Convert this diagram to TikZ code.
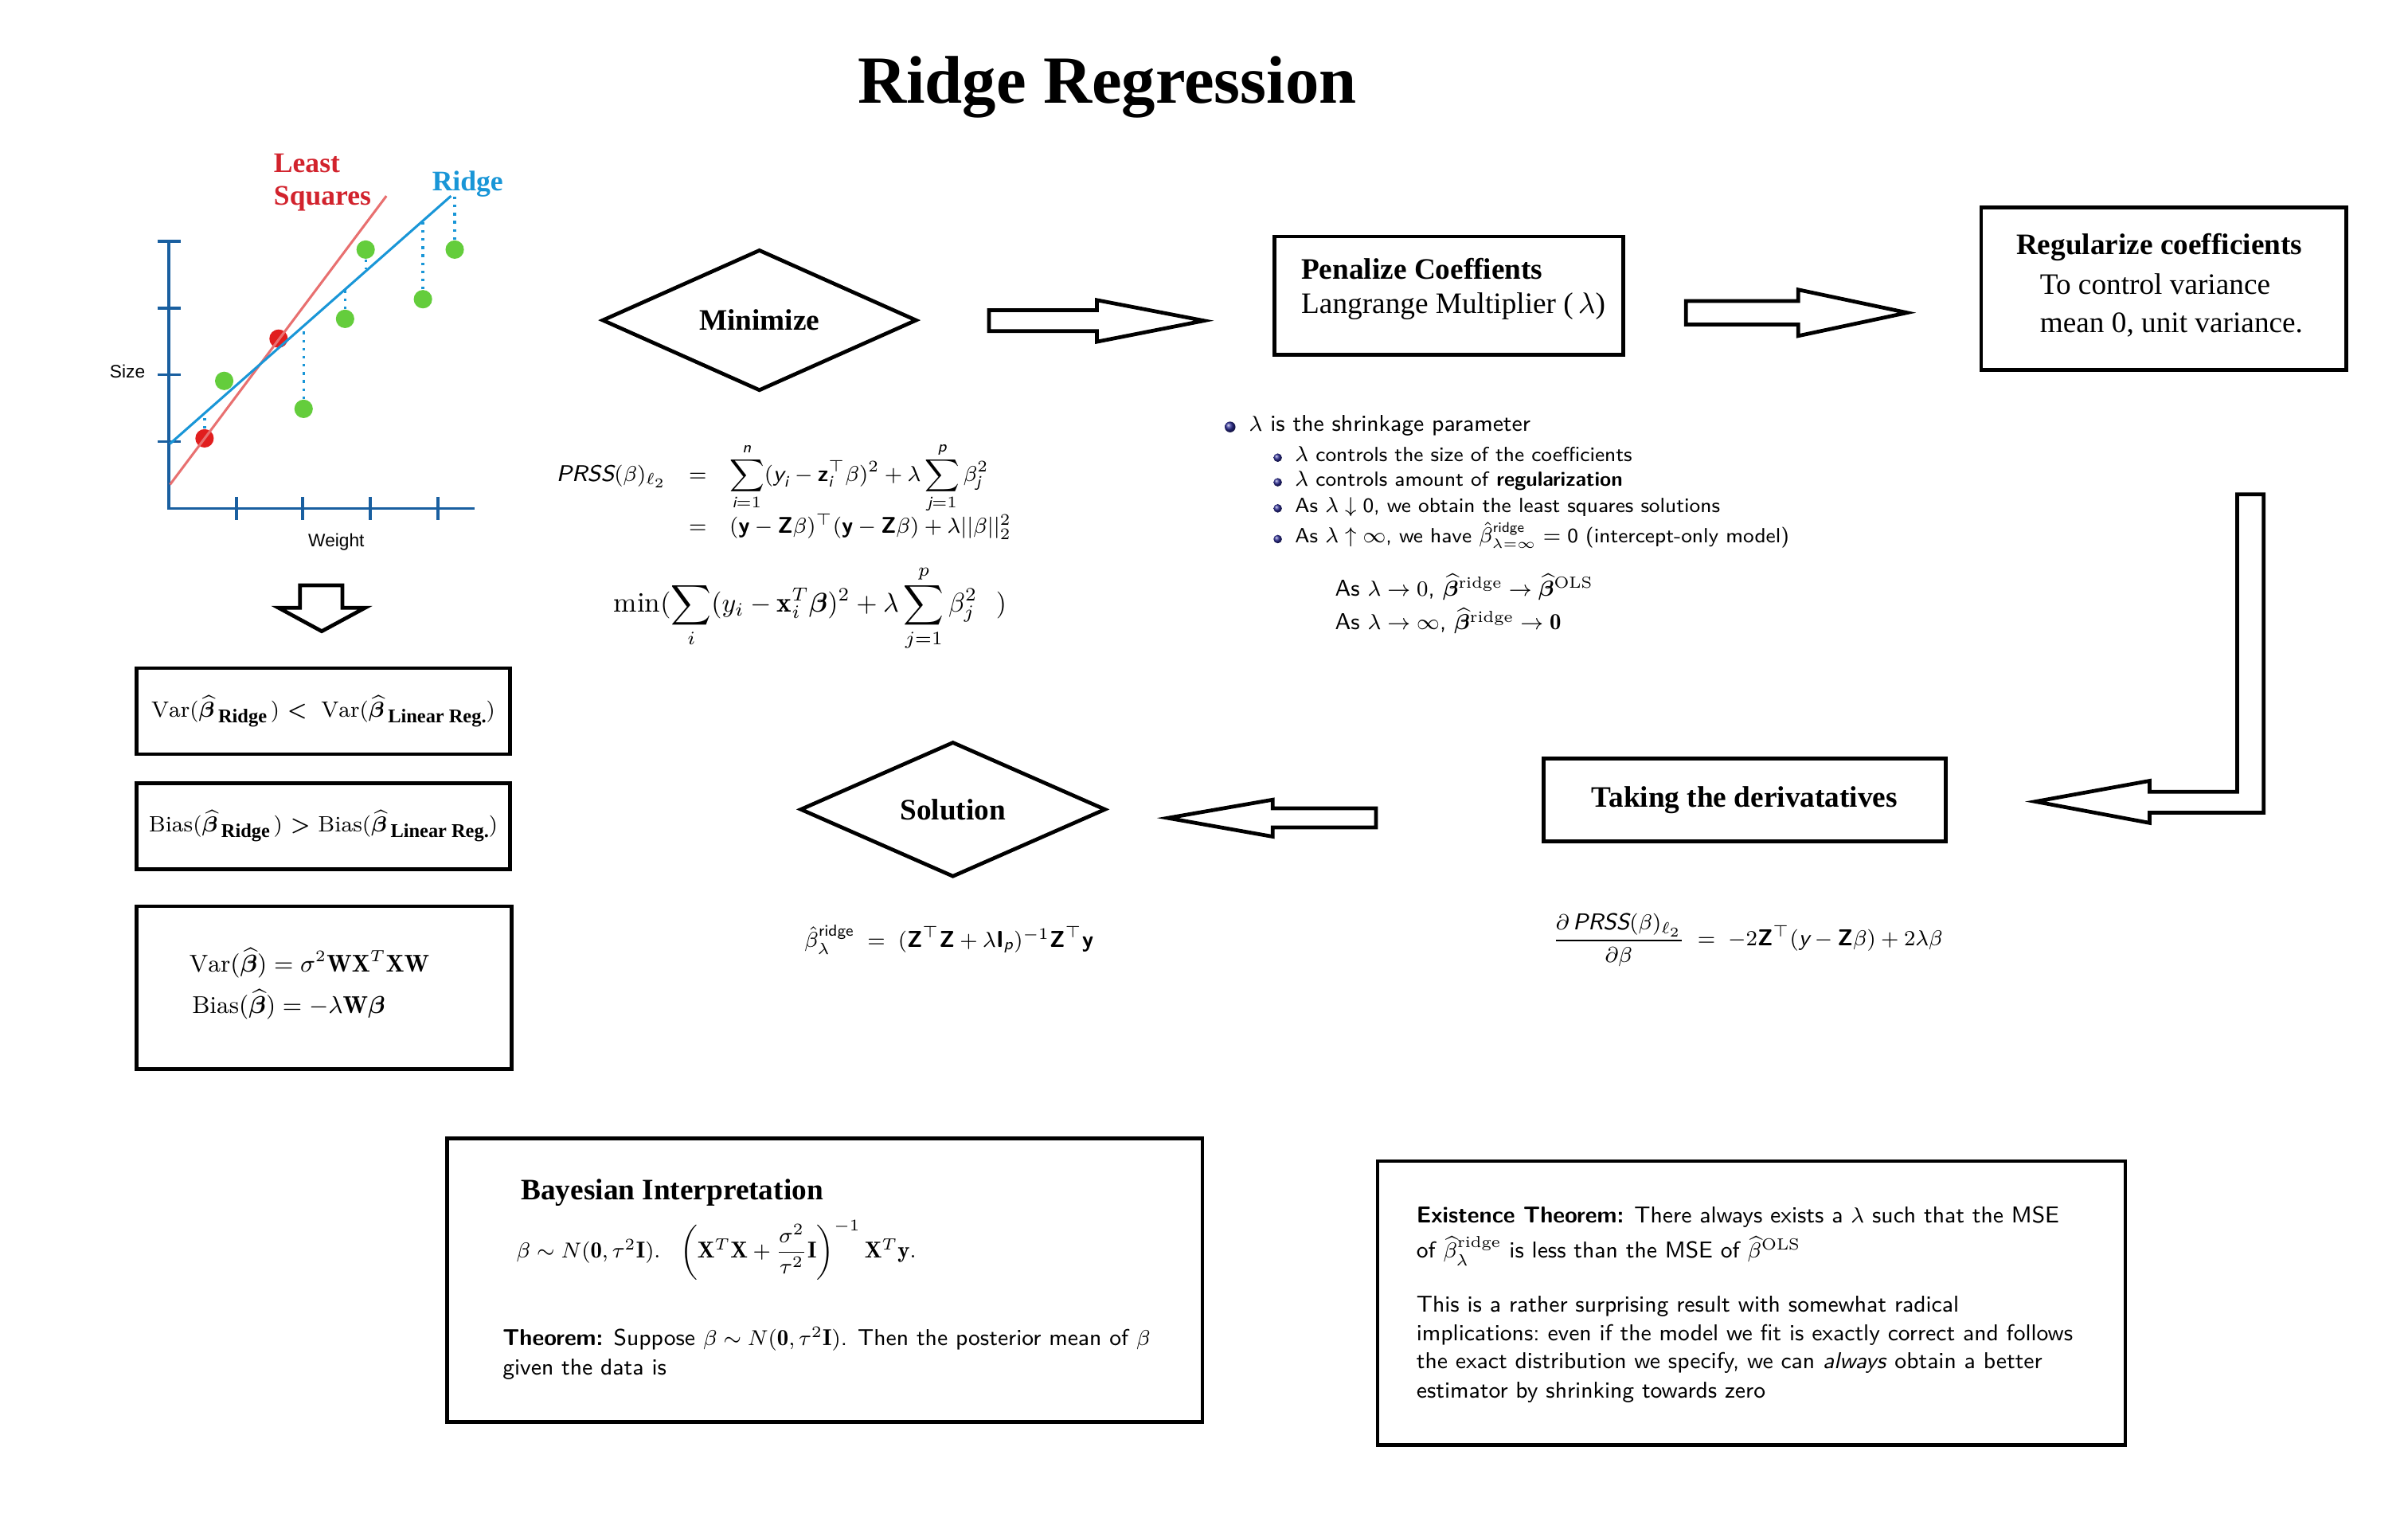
\documentclass[tikz,border=0pt]{standalone}
\usepackage{amsmath,amssymb,bm}
\usepackage{fontspec}
\newfontfamily\headfont{Liberation Serif}
\newfontfamily\plotfont{Liberation Sans}
\usetikzlibrary{shapes.geometric}

\definecolor{lsred}{RGB}{210,35,45}
\definecolor{lsline}{RGB}{232,112,112}
\definecolor{rdgblue}{RGB}{25,150,215}
\definecolor{axisblue}{RGB}{25,95,160}
\definecolor{dotgreen}{RGB}{100,205,60}
\definecolor{dotred}{RGB}{225,30,30}
\definecolor{ballblue}{RGB}{45,45,150}

\newcommand{\fsz}[2]{\fontsize{#1}{#2}\selectfont}
\newcommand{\sfit}[1]{\textsf{\itshape #1}}
\newcommand{\sfbf}[1]{\textsf{\bfseries #1}}
\newcommand{\lowtag}[1]{\,\raisebox{-0.6ex}{\headfont\bfseries\fontsize{7.2}{8}\selectfont #1}}

\begin{document}
\begin{tikzpicture}[x=0.02cm,y=-0.02cm,
  box/.style={draw, line width=1.4pt, inner sep=0pt},
  decision/.style={diamond, draw, line width=1.4pt, inner sep=0pt},
  blockarrow/.style={draw, line width=1.4pt, line join=miter},
  axis/.style={axisblue, line width=1.1pt},
  resid/.style={rdgblue, line width=1pt, dotted},
  gdot/.style={circle, fill=dotgreen, inner sep=0pt, minimum size=0.24cm},
  rdot/.style={circle, fill=dotred, inner sep=0pt, minimum size=0.24cm},
  ball/.style={circle, shade, ball color=ballblue, inner sep=0pt},
  txt/.style={font=\sffamily\fsz{8.5}{10}, anchor=base west, inner sep=0pt},
  subtxt/.style={font=\sffamily\fsz{7.6}{9}, anchor=base west, inner sep=0pt},
  headtxt/.style={font=\headfont\bfseries\fsz{11}{13}}]
\path[use as bounding box, fill=white] (0,0) rectangle (1568,998);

\node[font=\headfont\bfseries\fsz{25}{30}, anchor=base] (title) at (721,67) {Ridge Regression};

% plot
\draw[axis] (110,157) -- (110,331) -- (309,331);
\foreach \y in {157,200.5,244,287.5} \draw[axis] (102.5,\y) -- (117.5,\y);
\foreach \x in {154,197,241,285} \draw[axis] (\x,323.5) -- (\x,338.5);
\node[font=\plotfont\fsz{6.7}{8}] (size) at (83,242) {Size};
\node[font=\plotfont\fsz{6.7}{8}] (weight) at (219,353) {Weight};
\node[rdot] (r1) at (133.2,285.4) {};
\node[rdot] (r2) at (181.4,220.5) {};
\node[gdot] (g1) at (146,248) {};
\node[gdot] (g2) at (197.7,266.2) {};
\node[gdot] (g3) at (224.7,207.6) {};
\node[gdot] (g4) at (238.1,162.5) {};
\node[gdot] (g5) at (275.4,194.8) {};
\node[gdot] (g6) at (296.1,162.5) {};
\draw[lsline, line width=0.9pt] (110.7,315.5) -- (251.6,127.6);
\draw[rdgblue, line width=0.9pt] (110.7,288.9) -- (293.7,127.6);
\draw[resid] (r1.north) -- ++(0,-9);
\draw[resid] (g2.north) -- (197.7,212.2);
\draw[resid] (g3.north) -- (224.7,188.4);
\draw[resid] (g4.south) -- (238.1,175.5);
\draw[resid] (g5.north) -- (275.4,143.7);
\draw[resid] (g6.north) -- (296.1,127.6);
\node[font=\headfont\bfseries\fsz{10.5}{12}, text=lsred, align=left, anchor=north west, inner sep=0pt] (lslabel) at (178,100) {Least\\Squares};
\node[font=\headfont\bfseries\fsz{10.5}{12}, text=rdgblue, anchor=base, inner sep=0pt] (rdglabel) at (304.5,124) {Ridge};

% left column
\draw[blockarrow] (195.3,381.1) -- (223,381.1) -- (223,395.8) -- (237.6,395.8) -- (209.5,411) -- (181.5,395.8) -- (195.3,395.8) -- cycle;
\node[box, minimum width=4.86cm, minimum height=1.12cm, font=\fsz{8.2}{10}] (varbox) at (210.5,463)
  {$\mathrm{Var}(\widehat{\bm\beta}$\lowtag{Ridge}$\,)$ \textsf{\textbf{<}}\; $\mathrm{Var}(\widehat{\bm\beta}$\lowtag{Linear Reg.}$)$};
\node[box, minimum width=4.86cm, minimum height=1.12cm, font=\fsz{8.2}{10}] (biasbox) at (210.5,538)
  {$\mathrm{Bias}(\widehat{\bm\beta}$\lowtag{Ridge}$\,)$ \textsf{\textbf{>}} $\mathrm{Bias}(\widehat{\bm\beta}$\lowtag{Linear Reg.}$)$};
\node[box, minimum width=4.88cm, minimum height=2.12cm] (wbox) at (211,643) {};
\node[font=\fsz{9}{15.5}, align=left, anchor=west, inner sep=0pt] (wtext) at (123,640.5)
  {$\mathrm{Var}(\widehat{\bm\beta})=\sigma^2\mathbf{W}\mathbf{X}^T\mathbf{X}\mathbf{W}$\\
   \hspace{1pt}$\mathrm{Bias}(\widehat{\bm\beta})=-\lambda\mathbf{W}\bm\beta$};

% minimize
\node[decision, minimum width=4.1cm, minimum height=1.78cm, headtxt] (minimize) at (494.5,208.5) {Minimize};
\node[font=\fsz{8.4}{10}, anchor=west, inner sep=0pt] (prss) at (362,320)
  {$\begin{array}{@{}r@{\quad}c@{\quad}l@{}}
   \sfit{PRSS}(\beta)_{\ell_2} & = & \displaystyle\sum_{\sfit{i}=1}^{\sfit{n}}(\sfit{y}_{\sfit{i}}-\sfbf{z}_{\sfit{i}}^{\top}\beta)^2+\lambda\sum_{\sfit{j}=1}^{\sfit{p}}\beta_{\sfit{j}}^2\\[1pt]
    & = & (\sfbf{y}-\sfbf{Z}\beta)^{\top}(\sfbf{y}-\sfbf{Z}\beta)+\lambda||\beta||_2^2
   \end{array}$};
\node[font=\fsz{10.4}{12}] (mineq) at (527.5,396)
  {$\displaystyle\min(\sum_{i}(y_i-\mathbf{x}_i^T\bm\beta)^2+\lambda\sum_{j=1}^{p}\beta_j^2\ \ )$};

\draw[blockarrow] (644,202) -- (714.3,202) -- (714.3,195.4) -- (784,208.8) -- (714.3,222.5) -- (714.3,215.6) -- (644,215.6) -- cycle;

% penalize
\node[box, minimum width=4.54cm, minimum height=1.54cm] (penalize) at (943.5,192.5) {};
\node[font=\headfont\fsz{11}{12.5}, align=left, anchor=north west, inner sep=0pt] (pentext) at (847,168)
  {\textbf{Penalize Coeffients}\\Langrange Multiplier (\,$\lambda$)};

\draw[blockarrow] (1097.8,196) -- (1170.9,196) -- (1170.9,188.6) -- (1241.8,203.6) -- (1170.9,218.7) -- (1170.9,211.3) -- (1097.8,211.3) -- cycle;

% regularize
\node[box, minimum width=4.76cm, minimum height=2.12cm] (regularize) at (1409,188) {};
\node[headtxt] (regtitle) at (1406,161) {Regularize coefficients};
\node[font=\headfont\fsz{11}{14.2}, align=left, anchor=west, inner sep=0pt] (regtext) at (1328,199) {To control variance\\mean 0, unit variance.};

% shrinkage notes
\node[ball, minimum size=0.14cm] (b1) at (801,278) {};
\node[ball, minimum size=0.11cm] (b2) at (832,298) {};
\node[ball, minimum size=0.11cm] (b3) at (832,314) {};
\node[ball, minimum size=0.11cm] (b4) at (832,331) {};
\node[ball, minimum size=0.11cm] (b5) at (832,351) {};
\node[txt] (i1) at (813,281) {$\lambda$ is the shrinkage parameter};
\node[subtxt] (i2) at (843,300.5) {$\lambda$ controls the size of the coefficients};
\node[subtxt] (i3) at (843,316.5) {$\lambda$ controls amount of \textbf{regularization}};
\node[subtxt] (i4) at (843,333.5) {As $\lambda\downarrow\textsf{0}$, we obtain the least squares solutions};
\node[subtxt] (i5) at (843,353.5) {As $\lambda\uparrow\infty$, we have $\hat\beta^{\textsf{ridge}}_{\lambda=\infty}=\textsf{0}$ (intercept-only model)};
\node[txt] (lim1) at (869,388) {As $\lambda\to 0$, $\widehat{\bm\beta}^{\mathrm{ridge}}\to\widehat{\bm\beta}^{\mathrm{OLS}}$};
\node[txt] (lim2) at (869,410) {As $\lambda\to\infty$, $\widehat{\bm\beta}^{\mathrm{ridge}}\to\mathbf{0}$};

% L arrow
\draw[blockarrow] (1456.7,321.8) -- (1474,321.8) -- (1474,529.2) -- (1399.7,529.2) -- (1399.7,535.8) -- (1325.4,521.9) -- (1399.7,508.4) -- (1399.7,515.5) -- (1456.7,515.5) -- cycle;

% derivative and solution
\node[box, minimum width=5.24cm, minimum height=1.08cm, headtxt] (deriv) at (1136,521) {Taking the derivatatives};
\node[font=\fsz{8.5}{10}] (deriveq) at (1138,612)
  {$\dfrac{\partial\,\sfit{PRSS}(\beta)_{\ell_2}}{\partial\beta}\;=\;-2\sfbf{Z}^{\top}(\sfit{y}-\sfbf{Z}\beta)+2\lambda\beta$};
\draw[blockarrow] (896,526.3) -- (828.7,526.3) -- (828.7,520.7) -- (760.4,532.6) -- (828.7,544.7) -- (828.7,538.7) -- (896,538.7) -- cycle;
\node[decision, minimum width=3.98cm, minimum height=1.76cm, headtxt] (solution) at (620.5,527) {Solution};
\node[font=\fsz{8.5}{10}] (soleq) at (618,612)
  {$\hat\beta^{\textsf{ridge}}_{\lambda}\;=\;(\sfbf{Z}^{\top}\sfbf{Z}+\lambda\sfbf{I}_{\sfit{p}})^{-1}\sfbf{Z}^{\top}\sfbf{y}$};

% bayes
\node[box, minimum width=9.84cm, minimum height=3.7cm] (bayes) at (537,833.5) {};
\node[headtxt, anchor=base west, inner sep=0pt] (bayestitle) at (339,781) {Bayesian Interpretation};
\node[font=\fsz{8.5}{10}, anchor=west, inner sep=0pt] (bayeseq) at (336,814)
  {$\beta\sim N(\mathbf{0},\tau^2\mathbf{I}).\ \ \left(\mathbf{X}^T\mathbf{X}+\dfrac{\sigma^2}{\tau^2}\mathbf{I}\right)^{-1}\mathbf{X}^T\mathbf{y}.$};
\node[txt] (thm1) at (327,876) {\textbf{Theorem:} Suppose $\beta\sim N(\mathbf{0},\tau^2\mathbf{I})$. Then the posterior mean of $\beta$};
\node[txt] (thm2) at (327,895) {given the data is};

% existence
\node[box, minimum width=9.74cm, minimum height=3.7cm] (exist) at (1140.5,848.5) {};
\node[txt] (ex1) at (922,796) {\textbf{Existence Theorem:} There always exists a $\lambda$ such that the MSE};
\node[txt] (ex2) at (922,819) {of $\widehat{\beta}^{\mathrm{ridge}}_{\lambda}$ is less than the MSE of $\widehat{\beta}^{\mathrm{OLS}}$};
\node[txt] (ex3) at (922,854) {This is a rather surprising result with somewhat radical};
\node[txt] (ex4) at (922,873) {implications:\ even if the model we fit is exactly correct and follows};
\node[txt] (ex5) at (922,891) {the exact distribution we specify, we can \emph{always} obtain a better};
\node[txt] (ex6) at (922,910) {estimator by shrinking towards zero};
\end{tikzpicture}
\end{document}
